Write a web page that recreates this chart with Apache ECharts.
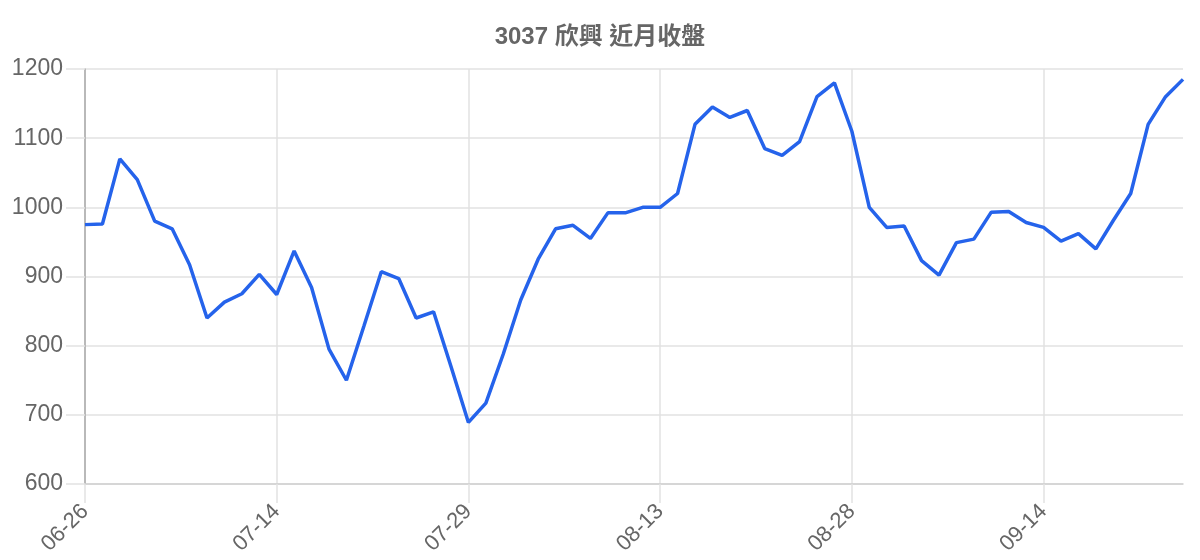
<!DOCTYPE html>
<html>
<head>
<meta charset="utf-8">
<script src="https://cdn.jsdelivr.net/npm/echarts@6/dist/echarts.min.js"></script>
<style>html,body{margin:0;padding:0;background:#fff}#c{width:1200px;height:560px}</style>
</head>
<body>
<div id="c"></div>
<script>
const titleText = '3037 欣興 近月收盤';
const dates = [
 '06-26','06-27','06-30','07-01','07-02','07-03','07-07','07-08','07-09','07-10','07-11',
 '07-14','07-15','07-16','07-17','07-18','07-21','07-22','07-23','07-24','07-25','07-28',
 '07-29','07-30','07-31','08-01','08-04','08-05','08-06','08-07','08-08','08-11','08-12',
 '08-13','08-14','08-15','08-18','08-19','08-20','08-21','08-22','08-25','08-26','08-27',
 '08-28','08-29','09-01','09-02','09-03','09-04','09-05','09-08','09-09','09-10','09-11',
 '09-14','09-15','09-16','09-17','09-18','09-19','09-22','09-23','09-24'
];
const closes = [
 975, 976, 1070, 1040, 980, 969, 917, 840, 863, 875, 903,
 874, 937, 884, 795, 750, 828, 907, 897, 840, 849, 770,
 689, 717, 788, 866, 925, 969, 974, 955, 992, 992, 1000,
 1000, 1020, 1120, 1145, 1130, 1140, 1085, 1075, 1095, 1160, 1180,
 1110, 1000, 971, 973, 923, 902, 949, 954, 993, 994, 978,
 971, 951, 962, 940, 981, 1020, 1120, 1160, 1185
];
const yMin = 600, yMax = 1200, yStep = 100;

const FONT = '"Liberation Sans", Arial, "Noto Sans CJK TC", sans-serif';
const chart = echarts.init(document.getElementById('c'));
chart.setOption({
  animation: false,
  title: {
    text: titleText, left: 'center', top: 20,
    textStyle: { fontFamily: FONT, fontSize: 24, fontWeight: 'bold', color: '#666' }
  },
  grid: { left: 85, right: 17, top: 69, bottom: 76, containLabel: false },
  xAxis: {
    type: 'category', data: dates, boundaryGap: false,
    axisLine: { show: true, lineStyle: { color: '#cfcfcf', width: 1.5 } },
    axisTick: { show: true, interval: 10, length: 19, lineStyle: { color: '#e2e2e2', width: 1.5 } },
    splitLine: { show: true, interval: 10, lineStyle: { color: '#e2e2e2', width: 1.5 } },
    axisLabel: {
      interval: 10, rotate: 45, margin: 24, color: '#666',
      fontFamily: FONT, fontSize: 22
    }
  },
  yAxis: {
    type: 'value', min: yMin, max: yMax, interval: yStep,
    axisLine: { show: true, lineStyle: { color: '#aaa', width: 1.5 } },
    axisTick: { show: true, length: 19, lineStyle: { color: '#e2e2e2', width: 1.5 } },
    splitLine: { show: true, lineStyle: { color: '#e2e2e2', width: 1.5 } },
    axisLabel: { color: '#666', fontFamily: FONT, fontSize: 23, margin: 22, formatter: v => String(v) }
  },
  series: [{
    type: 'line', data: closes, showSymbol: false, symbol: 'none',
    lineStyle: { color: '#2563eb', width: 3.5 }, itemStyle: { color: '#2563eb' }
  }]
});
</script>
</body>
</html>
